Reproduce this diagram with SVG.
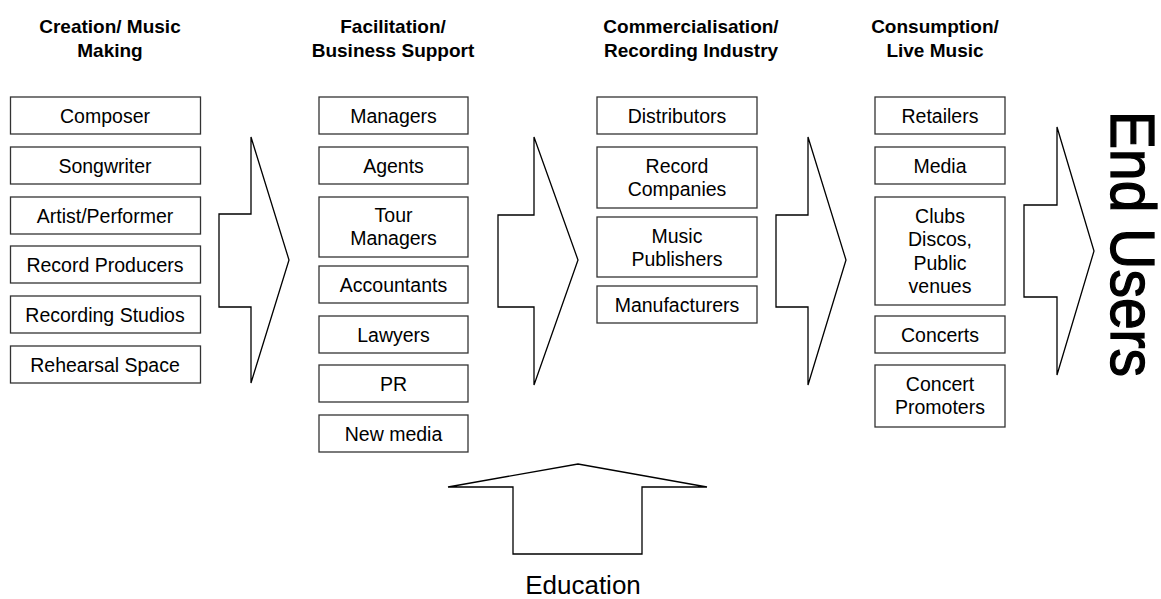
<svg xmlns="http://www.w3.org/2000/svg" width="1161" height="599" viewBox="0 0 1161 599">
<style>
.bx{fill:#fff;stroke:#333;stroke-width:1.3}
.t{font-family:"Liberation Sans",Arial,sans-serif;font-size:19.5px;text-anchor:middle;fill:#000}
.h{font-family:"Liberation Sans",Arial,sans-serif;font-size:19px;font-weight:bold;text-anchor:middle;fill:#000}
.ar{fill:#fff;stroke:#000;stroke-width:1.3;stroke-linejoin:miter}
</style>
<rect width="1161" height="599" fill="#fff"/>
<g id="headings">
<text class="h" x="110" y="33">Creation/ Music</text>
<text class="h" x="110" y="57">Making</text>
<text class="h" x="393" y="33">Facilitation/</text>
<text class="h" x="393" y="57">Business Support</text>
<text class="h" x="691" y="33">Commercialisation/</text>
<text class="h" x="691" y="57">Recording Industry</text>
<text class="h" x="935" y="33">Consumption/</text>
<text class="h" x="935" y="57">Live Music</text>
</g>
<g id="connectors">
<polygon class="ar" points="219,214 251,214 251,137 289,260 251,383 251,307 219,307"/>
<polygon class="ar" points="498,215 534,215 534,137 578,260 534,385 534,307 498,307"/>
<polygon class="ar" points="776,215 808,215 808,137 846,260 808,385 808,307 776,307"/>
<polygon class="ar" points="1024,205 1057,205 1057,127 1094,251 1057,375 1057,297 1024,297"/>
<polygon class="ar" points="448,487 578,464 707,487 642,487 642,554 513,554 513,487"/>
</g>
<g id="col1">
<g id="composer"><rect class="bx" x="10.5" y="97" width="190" height="37"/><text class="t" x="105" y="122.5">Composer</text></g>
<g id="songwriter"><rect class="bx" x="10.5" y="147" width="190" height="37"/><text class="t" x="105" y="172.5">Songwriter</text></g>
<g id="artist"><rect class="bx" x="10.5" y="197" width="190" height="37"/><text class="t" x="105" y="222.5">Artist/Performer</text></g>
<g id="producers"><rect class="bx" x="10.5" y="246" width="190" height="37"/><text class="t" x="105" y="271.5">Record Producers</text></g>
<g id="studios"><rect class="bx" x="10.5" y="296" width="190" height="37"/><text class="t" x="105" y="321.5">Recording Studios</text></g>
<g id="rehearsal"><rect class="bx" x="10.5" y="346" width="190" height="37"/><text class="t" x="105" y="371.5">Rehearsal Space</text></g>
</g>
<g id="col2">
<g id="managers"><rect class="bx" x="319" y="97" width="149" height="37"/><text class="t" x="393.5" y="122.5">Managers</text></g>
<g id="agents"><rect class="bx" x="319" y="147" width="149" height="37"/><text class="t" x="393.5" y="172.5">Agents</text></g>
<g id="tour"><rect class="bx" x="319" y="197" width="149" height="60"/><text class="t" x="393.5" y="222">Tour</text><text class="t" x="393.5" y="244.5">Managers</text></g>
<g id="accountants"><rect class="bx" x="319" y="266" width="149" height="37"/><text class="t" x="393.5" y="291.5">Accountants</text></g>
<g id="lawyers"><rect class="bx" x="319" y="316" width="149" height="37"/><text class="t" x="393.5" y="341.5">Lawyers</text></g>
<g id="pr"><rect class="bx" x="319" y="365" width="149" height="37"/><text class="t" x="393.5" y="390.5">PR</text></g>
<g id="newmedia"><rect class="bx" x="319" y="415" width="149" height="37"/><text class="t" x="393.5" y="440.5">New media</text></g>
</g>
<g id="col3">
<g id="distributors"><rect class="bx" x="597" y="97" width="160" height="37"/><text class="t" x="677" y="122.5">Distributors</text></g>
<g id="recordco"><rect class="bx" x="597" y="147" width="160" height="61"/><text class="t" x="677" y="173">Record</text><text class="t" x="677" y="196">Companies</text></g>
<g id="publishers"><rect class="bx" x="597" y="217" width="160" height="60"/><text class="t" x="677" y="242.5">Music</text><text class="t" x="677" y="265.5">Publishers</text></g>
<g id="manufacturers"><rect class="bx" x="597" y="286" width="160" height="37"/><text class="t" x="677" y="311.5">Manufacturers</text></g>
</g>
<g id="col4">
<g id="retailers"><rect class="bx" x="875" y="97" width="130" height="37"/><text class="t" x="940" y="122.5">Retailers</text></g>
<g id="media"><rect class="bx" x="875" y="147" width="130" height="37"/><text class="t" x="940" y="172.5">Media</text></g>
<g id="clubs"><rect class="bx" x="875" y="197" width="130" height="108"/><text class="t" x="940" y="222.5">Clubs</text><text class="t" x="940" y="246">Discos,</text><text class="t" x="940" y="269.5">Public</text><text class="t" x="940" y="293">venues</text></g>
<g id="concerts"><rect class="bx" x="875" y="316" width="130" height="37"/><text class="t" x="940" y="341.5">Concerts</text></g>
<g id="promoters"><rect class="bx" x="875" y="365" width="130" height="62"/><text class="t" x="940" y="391">Concert</text><text class="t" x="940" y="414">Promoters</text></g>
</g>
<g id="endusers"><text font-family="Liberation Sans, Arial, sans-serif" font-size="57" fill="#000" stroke="#000" stroke-width="1.2" transform="translate(1111,111) scale(1.1,1) rotate(90)">End Users</text></g>
<g id="education"><text font-family="Liberation Sans, Arial, sans-serif" font-size="26" text-anchor="middle" fill="#000" x="583" y="594">Education</text></g>
</svg>
